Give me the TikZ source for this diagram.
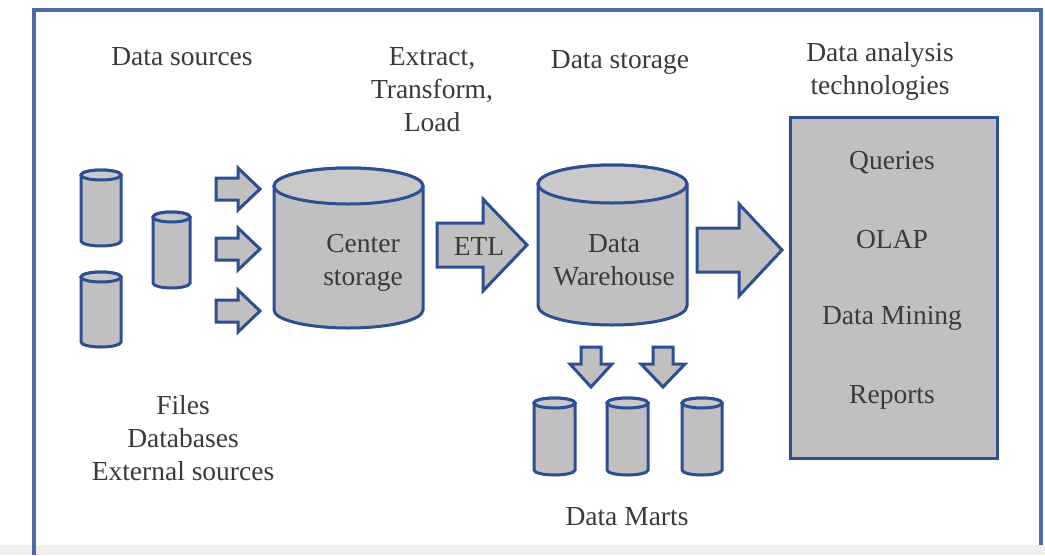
\documentclass[tikz,border=0pt]{standalone}
\usepackage{fontspec}
\setmainfont{Liberation Serif}
\definecolor{frameblue}{HTML}{4D6AA3}
\definecolor{edgeblue}{HTML}{2B4F91}
\definecolor{bodygrey}{HTML}{C0C0C0}
\definecolor{topgrey}{HTML}{C9C9C9}
\definecolor{txtgrey}{HTML}{3A3A3A}
\definecolor{stripgrey}{HTML}{EFEFEF}

\newcommand{\dbcyl}[6]{%
  \pgfmathsetmacro\cylcx{(#2+#3)/2}%
  \pgfmathsetmacro\cylrx{(#3-#2)/2}%
  \pgfmathsetmacro\cylyt{-#4-#6}%
  \pgfmathsetmacro\cylyb{-#5+#6}%
  \pgfmathsetmacro\cylym{(\cylyt+\cylyb)/2}%
  \draw[cylbody] (#2,\cylyt) -- (#2,\cylyb)
     arc[start angle=180,end angle=360,x radius=\cylrx,y radius=#6]
     -- (#3,\cylyt)
     arc[start angle=0,end angle=180,x radius=\cylrx,y radius=#6] -- cycle;
  \draw[cyltop] (\cylcx,\cylyt) ellipse[x radius=\cylrx,y radius=#6];
  \coordinate (#1) at (\cylcx,\cylym);
}
% right block arrow: name, x1, xhead, xtip, ycenter, shaft half, head half
\newcommand{\rblock}[7]{%
  \draw[blockarrow] (#2,-#5+#6) -- (#3,-#5+#6) -- (#3,-#5+#7) -- (#4,-#5)
     -- (#3,-#5-#7) -- (#3,-#5-#6) -- (#2,-#5-#6) -- cycle;
  \coordinate (#1) at ({(#2+#4)/2},-#5);
}
% down block arrow: name, xcenter, ytop, yhead, ytip, shaft half, head half
\newcommand{\dblock}[7]{%
  \draw[blockarrow] (#2-#6,-#3) -- (#2+#6,-#3) -- (#2+#6,-#4) -- (#2+#7,-#4)
     -- (#2,-#5) -- (#2-#7,-#4) -- (#2-#6,-#4) -- cycle;
  \coordinate (#1) at (#2,{-(#3+#5)/2});
}

\begin{document}
\begin{tikzpicture}[x=1pt,y=1pt,
  cylbody/.style={draw=edgeblue,fill=bodygrey,line width=3pt},
  cyltop/.style={draw=edgeblue,fill=topgrey,line width=3pt},
  blockarrow/.style={draw=edgeblue,fill=bodygrey,line width=3pt,line join=miter},
  lbl/.style={text=txtgrey,font=\fontsize{27.5}{33}\selectfont,align=center,inner sep=0pt},
  anabox/.style={draw=edgeblue,fill=bodygrey,line width=3pt,inner sep=0pt}]
\useasboundingbox (0,0) rectangle (1045,-555);
% background strip and frame
\fill[stripgrey] (0,-545) rectangle (1045,-555);
\draw[frameblue,line width=4pt] (34,-555) -- (34,-10) -- (1041,-10) -- (1041,-545);

% headings
\node[lbl] (hsrc) at (182,-57) {Data sources};
\node[lbl] (hetl) at (432,-90) {Extract,\\Transform,\\Load};
\node[lbl] (hstore) at (620,-62) {Data storage};
\node[lbl] (hana) at (880,-71) {Data analysis\\technologies};

% source cylinders
\dbcyl{s1}{81}{121}{170}{246}{5}
\dbcyl{s2}{81}{121}{272}{347}{5}
\dbcyl{s3}{153}{190}{212}{288}{5}
\node[lbl] (files) at (183,-438) {Files\\Databases\\External sources};

% small arrows
\rblock{a1}{216}{238}{260}{189}{11}{21}
\rblock{a2}{216}{238}{260}{249}{11}{21}
\rblock{a3}{216}{238}{260}{311}{11}{21}

% center storage
\dbcyl{cs}{274}{423}{168}{328}{18}
\node[lbl] (cstxt) at (363,-263) {Center\\storage};

% ETL arrow
\rblock{etl}{437}{483}{527}{245}{22}{46}
\node[lbl] (etltxt) at (479,-246) {ETL};

% data warehouse
\dbcyl{dw}{538}{687}{165}{325}{19}
\node[lbl] (dwtxt) at (614,-260) {Data\\Warehouse};

% big arrow
\rblock{big}{697}{739}{782}{250}{22}{46}

% analysis box
\node[anabox,minimum width=207pt,minimum height=341pt] (ana) at (893.5,-287.5) {};
\node[lbl] (q) at (892,-163) {Queries};
\node[lbl] (olap) at (892,-240) {OLAP};
\node[lbl] (dm) at (892,-318) {Data Mining};
\node[lbl] (rep) at (892,-397) {Reports};

% down arrows
\dblock{d1}{591}{347}{364}{387}{10}{21}
\dblock{d2}{663}{347}{364}{387}{10}{22}

% data marts
\dbcyl{m1}{534}{575}{398}{475}{5}
\dbcyl{m2}{607}{648}{398}{475}{5}
\dbcyl{m3}{682}{722}{398}{475}{5}
\node[lbl] (marts) at (627,-517) {Data Marts};
\end{tikzpicture}
\end{document}
